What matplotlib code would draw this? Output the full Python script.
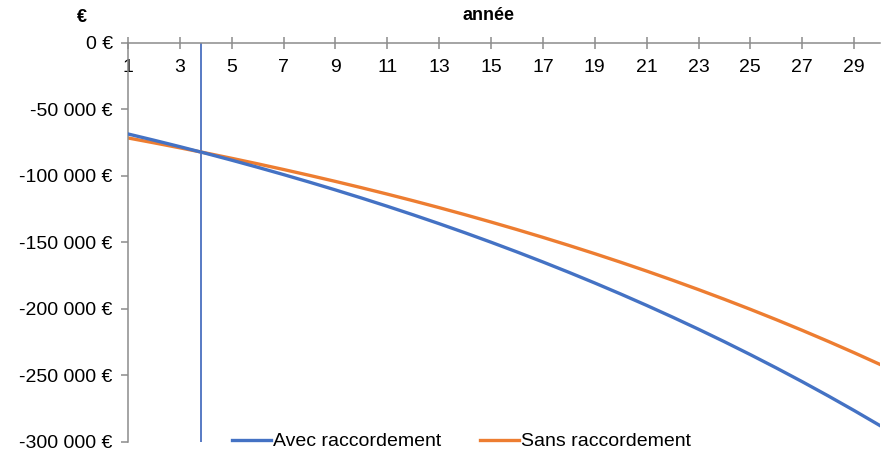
import matplotlib.pyplot as plt
from matplotlib.ticker import FuncFormatter

plt.rcParams['font.family'] = ['Liberation Sans', 'DejaVu Sans']

# years on the horizontal axis
years = list(range(1, 31))

# cumulated cost, with connection (blue)
avec = [-68400, -73100, -77950, -82956, -88122, -93453, -98955, -104633,
        -110492, -116539, -122779, -129219, -135865, -142724, -149802,
        -157107, -164645, -172425, -180454, -188740, -197291, -206116,
        -215223, -224621, -234320, -244330, -254660, -265320, -276322,
        -287676]

# cumulated cost, without connection (orange)
sans = [-71400, -75050, -78817, -82704, -86716, -90856, -95129, -99538,
        -104088, -108784, -113630, -118631, -123792, -129118, -134615,
        -140288, -146142, -152184, -158419, -164854, -171494, -178347,
        -185420, -192719, -200251, -208024, -216046, -224325, -232869,
        -241686]

# break-even year marker
seuil = 3.8

labels = ['Avec raccordement', 'Sans raccordement']
colors = ['#4472C4', '#ED7D31']
yticks = [0, -50000, -100000, -150000, -200000, -250000, -300000]
xticks = list(range(1, 31, 2))


def euro(v, pos):
    # french thousands separator and euro sign
    return '{:,.0f} €'.format(v).replace(',', ' ')


fig = plt.figure(figsize=(8.84, 4.53), dpi=100)
ax = fig.add_axes([0.1448, 0.0243, 0.8507, 0.8808])

ax.axvline(seuil, color='#4a6fbf', lw=1.3, zorder=1)
ax.plot(years, avec, color=colors[0], lw=2.4, label=labels[0], zorder=3)
ax.plot(years, sans, color=colors[1], lw=2.4, label=labels[1], zorder=2)

ax.set_xlim(1, 30)
ax.set_ylim(-300000, 0)

# x axis line drawn at y = 0 (top of the plot)
ax.spines['bottom'].set_position(('data', 0))
ax.spines['top'].set_visible(False)
ax.spines['right'].set_visible(False)
for s in ['left', 'bottom']:
    ax.spines[s].set_color('#8c8c8c')
    ax.spines[s].set_linewidth(1.1)

ax.set_xticks(xticks)
ax.set_yticks(yticks)
ax.yaxis.set_major_formatter(FuncFormatter(euro))
ax.tick_params(axis='x', direction='inout', length=9, width=1.1,
               color='#8c8c8c', labelsize=14, pad=7)
ax.tick_params(axis='y', direction='out', length=5, width=1.1,
               color='#8c8c8c', labelsize=14, pad=6)

fig.text(0.553, 0.965, 'année', ha='center', va='center',
         fontsize=13, fontweight='bold')
fig.text(0.093, 0.962, '€', ha='center', va='center',
         fontsize=13, fontweight='bold')

fig.legend(loc='center', bbox_to_anchor=(0.522, 0.025), ncol=2,
           frameon=False, fontsize=14, handlelength=2.0,
           handletextpad=0.1, columnspacing=2.0)

fig.savefig('out.png', dpi=100)
